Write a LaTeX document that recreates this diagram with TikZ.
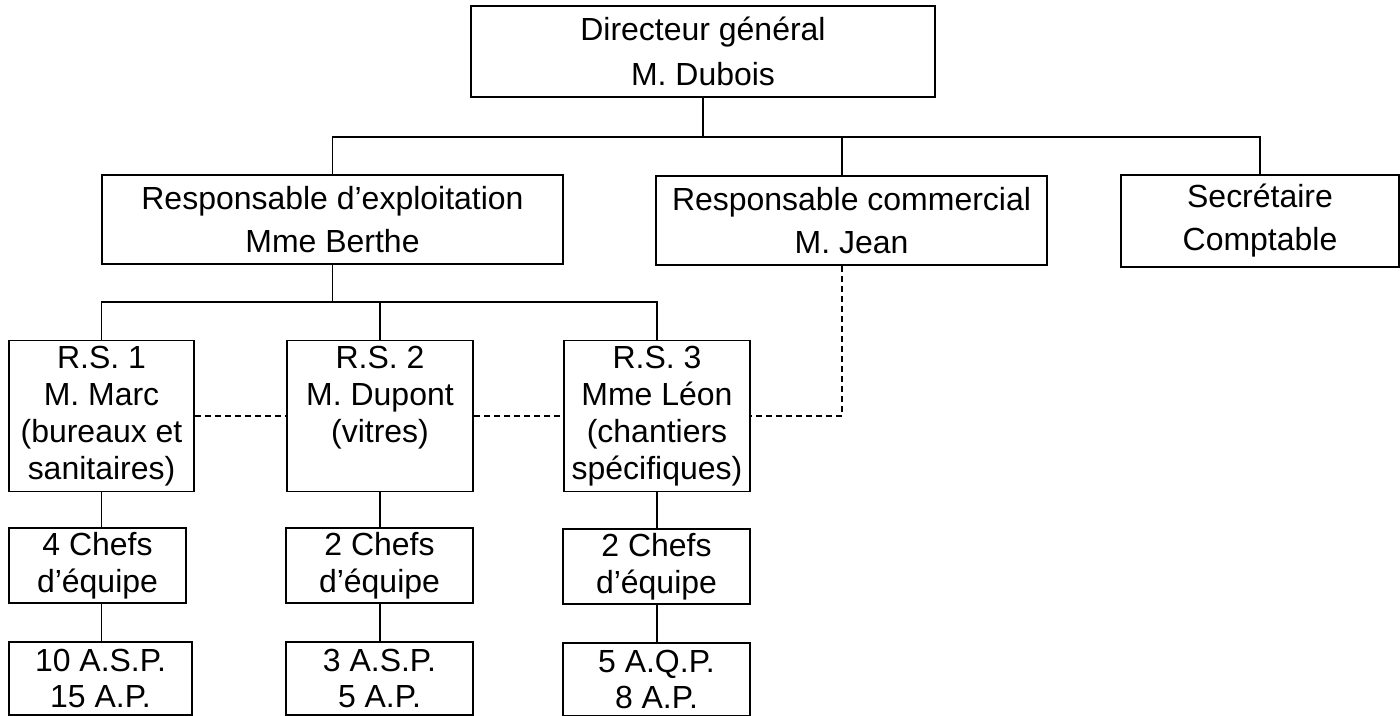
\documentclass[tikz,border=0pt]{standalone}
\usepackage{fontspec}
\setmainfont{Liberation Sans}
\newlength\pxu
\setlength\pxu{0.02cm}
\begin{document}
\begin{tikzpicture}[x=0.02cm,y=-0.02cm,
  box/.style={draw,line width=1.1pt,rectangle,inner sep=0pt,align=center,anchor=center,
    font=\fontsize{18.2}{24.5}\selectfont},
  bigbox/.style={box,font=\fontsize{18.2}{25.6}\selectfont},
  smallbox/.style={box,font=\fontsize{18.2}{21}\selectfont},
  conn/.style={line width=1.1pt},
  dashconn/.style={line width=0.8pt,dash pattern=on 3.4pt off 2.3pt}]
\useasboundingbox (0,0) rectangle (1400,716);
\clip (0,0) rectangle (1400,716);
% top level
\node[bigbox,minimum width=464\pxu,minimum height=91\pxu] (top) at (703,51.5) {Directeur général\\M. Dubois};
% second level
\node[box,minimum width=461\pxu,minimum height=89\pxu] (re) at (332.5,219.5) {Responsable d’exploitation\\Mme Berthe};
\node[box,minimum width=391\pxu,minimum height=89\pxu] (rc) at (851.5,220.5) {Responsable commercial\\M. Jean};
\node[box,minimum width=278\pxu,minimum height=92\pxu] (sec) at (1260,221) {Secrétaire\\Comptable};
% R.S. level
\node[smallbox,minimum width=185\pxu,minimum height=151\pxu] (rs1) at (101.5,416) {R.S. 1\\M. Marc\\(bureaux et\\sanitaires)};
\node[smallbox,minimum width=186\pxu,minimum height=151\pxu] (rs2) at (380,416) {R.S. 2\\M. Dupont\\(vitres)\\\phantom{sanitaires)}};
\node[smallbox,minimum width=186\pxu,minimum height=151\pxu] (rs3) at (657,416) {R.S. 3\\Mme Léon\\(chantiers\\spécifiques)};
% chefs
\node[smallbox,minimum width=177\pxu,minimum height=75\pxu] (ch1) at (97.5,565.5) {4 Chefs\\d’équipe};
\node[smallbox,minimum width=187\pxu,minimum height=75\pxu] (ch2) at (379.5,565.5) {2 Chefs\\d’équipe};
\node[smallbox,minimum width=187\pxu,minimum height=75\pxu] (ch3) at (656.5,566.5) {2 Chefs\\d’équipe};
% agents
\node[smallbox,minimum width=183\pxu,minimum height=73\pxu] (ag1) at (100.5,678.5) {10 A.S.P.\\15 A.P.};
\node[smallbox,minimum width=187\pxu,minimum height=73\pxu] (ag2) at (379.5,678.5) {3 A.S.P.\\5 A.P.};
\node[smallbox,minimum width=187\pxu,minimum height=73\pxu] (ag3) at (656.5,679.5) {5 A.Q.P.\\8 A.P.};
% buses
\coordinate (bus1) at (0,137);
\coordinate (bus2) at (0,302);
\coordinate (rcjoin) at (842,0);
\draw[conn] (top.south) -- (top.south |- bus1);
\draw[conn] (re.north) -- (re.north |- bus1) -- (sec.north |- bus1) -- (sec.north);
\draw[conn] (rcjoin |- rc.north) -- (rcjoin |- bus1);
\draw[conn] (re.south) -- (re.south |- bus2);
\draw[conn] (rs1.north) -- (rs1.north |- bus2) -- (rs3.north |- bus2) -- (rs3.north);
\draw[conn] (rs2.north) -- (rs2.north |- bus2);
% columns
\draw[conn] (rs1.south) -- (rs1.south |- ch1.north);
\draw[conn] (rs1.south |- ch1.south) -- (rs1.south |- ag1.north);
\draw[conn] (rs2.south) -- (rs2.south |- ch2.north);
\draw[conn] (rs2.south |- ch2.south) -- (rs2.south |- ag2.north);
\draw[conn] (rs3.south) -- (rs3.south |- ch3.north);
\draw[conn] (rs3.south |- ch3.south) -- (rs3.south |- ag3.north);
% dashed links
\draw[dashconn] (rs1.east) -- (rs2.west);
\draw[dashconn] (rs2.east) -- (rs3.west);
\draw[dashconn] (rcjoin |- rc.south) |- (rs3.east);
\end{tikzpicture}
\end{document}
